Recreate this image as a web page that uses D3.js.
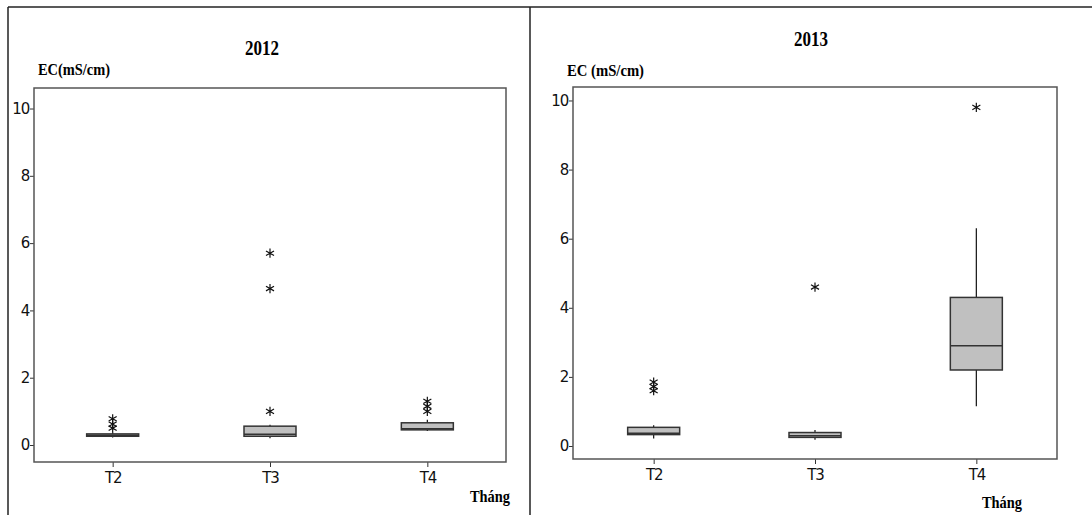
<!DOCTYPE html>
<html><head><meta charset="utf-8">
<script src="https://cdn.jsdelivr.net/npm/d3@7"></script>
<style>
html,body{margin:0;padding:0;background:#fff;}
svg{display:block;}
</style></head>
<body><svg id="chart" width="1092" height="515"></svg>
<script>
// ---------- DATA ----------
const categories = ["T2", "T3", "T4"];
const yTickValues = [0, 2, 4, 6, 8, 10];
const titles = ["2012", "2013"];
const yLabels = ["EC(mS/cm)", "EC (mS/cm)"];
const xLabel = "Tháng";

// 2012
const whiskerLow2012  = [0.22, 0.20, 0.42];
const q1_2012         = [0.26, 0.26, 0.45];
const median2012      = [0.29, 0.32, 0.48];
const q3_2012         = [0.33, 0.56, 0.66];
const whiskerHigh2012 = [0.37, 0.60, 0.75];
const outliers2012    = [[0.50, 0.62, 0.78], [1.00, 4.65, 5.70], [1.00, 1.15, 1.30]];

// 2013
const whiskerLow2013  = [0.22, 0.18, 1.15];
const q1_2013         = [0.33, 0.25, 2.20];
const median2013      = [0.37, 0.30, 2.90];
const q3_2013         = [0.54, 0.39, 4.30];
const whiskerHigh2013 = [0.60, 0.46, 6.30];
const outliers2013    = [[1.60, 1.72, 1.85], [4.60], [9.80]];

// ---------- LAYOUT ----------
const panels = [
  { title: titles[0], ylab: yLabels[0], left: 34, right: 506, top: 88, bottom: 462, yDomain: [-0.505, 10.61],
    titleX: 262, titleY: 55, ylabX: 38, ylabY: 75, ylabW: 72, xlabX: 490, xlabY: 502,
    lo: whiskerLow2012, q1: q1_2012, med: median2012, q3: q3_2012, hi: whiskerHigh2012, out: outliers2012 },
  { title: titles[1], ylab: yLabels[1], left: 573, right: 1057, top: 87, bottom: 459, yDomain: [-0.376, 10.39],
    titleX: 811, titleY: 46, ylabX: 567, ylabY: 76, ylabW: 77, xlabX: 1002, xlabY: 508,
    lo: whiskerLow2013, q1: q1_2013, med: median2013, q3: q3_2013, hi: whiskerHigh2013, out: outliers2013 }
];

const svg = d3.select("#chart");

// outer table frame
svg.append("line").attr("x1", 8).attr("x2", 1092).attr("y1", 7).attr("y2", 7).attr("stroke", "#222").attr("stroke-width", 1.5);
svg.append("line").attr("x1", 8).attr("x2", 8).attr("y1", 7).attr("y2", 515).attr("stroke", "#222").attr("stroke-width", 1.5);
svg.append("line").attr("x1", 530).attr("x2", 530).attr("y1", 7).attr("y2", 515).attr("stroke", "#222").attr("stroke-width", 1.5);

const tickFont = "'DejaVu Sans', Verdana, sans-serif";
const serifFont = "'Liberation Serif', 'Times New Roman', serif";

panels.forEach((p, pi) => {
  const g = svg.append("g");
  const x = d3.scalePoint().domain(categories).range([p.left, p.right]).padding(0.5);
  const y = d3.scaleLinear().domain(p.yDomain).range([p.bottom, p.top]);
  const boxW = 52;

  // title and labels
  g.append("text").attr("x", p.titleX).attr("y", p.titleY).attr("text-anchor", "middle")
    .attr("font-family", serifFont).attr("font-weight", "bold").attr("font-size", 21)
    .attr("textLength", 34).attr("lengthAdjust", "spacingAndGlyphs").text(p.title);
  g.append("text").attr("x", p.ylabX).attr("y", p.ylabY)
    .attr("font-family", serifFont).attr("font-weight", "bold").attr("font-size", 17)
    .attr("textLength", p.ylabW).attr("lengthAdjust", "spacingAndGlyphs").text(p.ylab);
  g.append("text").attr("x", p.xlabX).attr("y", p.xlabY).attr("text-anchor", "middle")
    .attr("font-family", serifFont).attr("font-weight", "bold").attr("font-size", 17)
    .attr("textLength", 40).attr("lengthAdjust", "spacingAndGlyphs").text(xLabel);

  // axes
  const ya = g.append("g").attr("transform", `translate(${p.left},0)`)
    .call(d3.axisLeft(y).tickValues(yTickValues).tickSize(4).tickPadding(1));
  ya.select(".domain").remove();
  ya.selectAll("text").attr("font-family", tickFont).attr("font-size", 15).attr("fill", "#111").attr("letter-spacing", -1.2);
  ya.selectAll("line").attr("stroke", "#333");

  const xa = g.append("g").attr("transform", `translate(0,${p.bottom})`)
    .call(d3.axisBottom(x).tickSize(5).tickPadding(5));
  xa.select(".domain").remove();
  xa.selectAll("text").attr("font-family", tickFont).attr("font-size", 15).attr("fill", "#111").attr("letter-spacing", -1.2);
  xa.selectAll("line").attr("stroke", "#333");

  // plot frame
  g.append("rect").attr("x", p.left).attr("y", p.top).attr("width", p.right - p.left).attr("height", p.bottom - p.top)
    .attr("fill", "none").attr("stroke", "#555").attr("stroke-width", 1.5);

  // boxes
  categories.forEach((c, i) => {
    const cx = x(c);
    g.append("line").attr("x1", cx).attr("x2", cx).attr("y1", y(p.lo[i])).attr("y2", y(p.q1[i]))
      .attr("stroke", "#111").attr("stroke-width", 1.2);
    g.append("line").attr("x1", cx).attr("x2", cx).attr("y1", y(p.q3[i])).attr("y2", y(p.hi[i]))
      .attr("stroke", "#111").attr("stroke-width", 1.2);
    g.append("rect").attr("x", cx - boxW / 2).attr("y", y(p.q3[i])).attr("width", boxW)
      .attr("height", Math.max(1, y(p.q1[i]) - y(p.q3[i])))
      .attr("fill", "#c0c0c0").attr("stroke", "#333").attr("stroke-width", 1.5);
    g.append("line").attr("x1", cx - boxW / 2).attr("x2", cx + boxW / 2).attr("y1", y(p.med[i])).attr("y2", y(p.med[i]))
      .attr("stroke", "#333").attr("stroke-width", 1.5);
    p.out[i].forEach(v => {
      g.append("path").attr("d", d3.symbol(d3.symbolAsterisk, 60)())
        .attr("transform", `translate(${cx},${y(v)})`)
        .attr("fill", "none").attr("stroke", "#111").attr("stroke-width", 1.2);
    });
  });
});
</script>
</body></html>
